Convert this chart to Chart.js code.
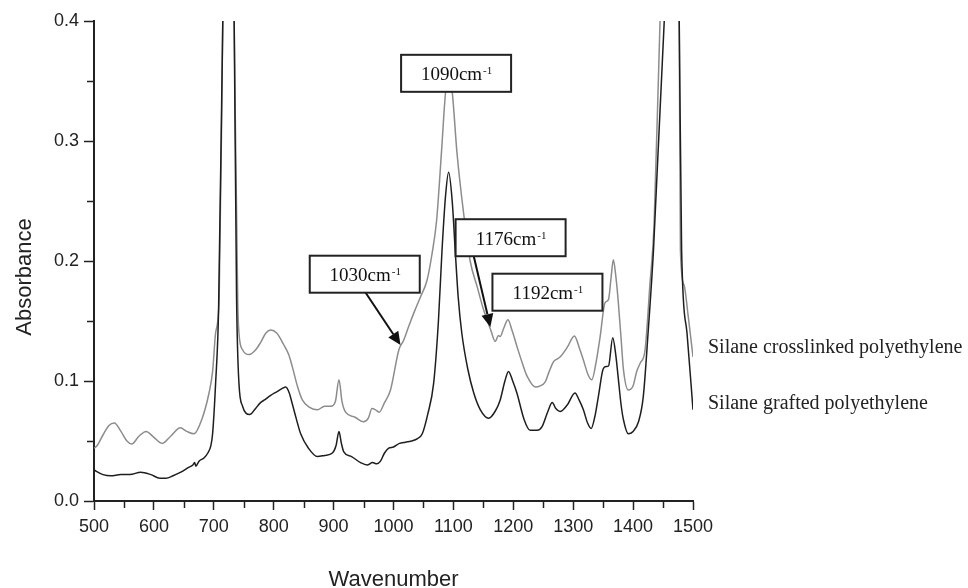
<!DOCTYPE html>
<html>
<head>
<meta charset="utf-8">
<script src="https://cdn.jsdelivr.net/npm/chart.js@4.4.1/dist/chart.umd.min.js"></script>
<style>
    body { margin: 0; background: #fff; }
    #wrap { width: 968px; height: 588px; }
</style>
</head>
<body>
<div id="wrap"><canvas id="ftir" width="968" height="588"></canvas></div>
<script>
// Widma FTIR
var crosslinkedX = [500, 505, 515, 525, 534, 545, 555, 563, 575, 587, 600, 614, 628, 644, 655, 667, 680, 692, 698, 703,
    709, 715, 725, 734, 740, 742, 748, 759, 770, 778, 787, 795, 805, 817, 825, 831, 840, 848, 860, 873,
    885, 895, 903, 909, 914, 920, 935, 950, 958, 964, 970, 976, 985, 995, 1009, 1017, 1025, 1035, 1045, 1056,
    1064, 1072, 1080, 1087, 1092, 1098, 1106, 1117, 1128, 1140, 1150, 1162, 1170, 1175, 1178, 1184, 1191, 1198, 1206, 1215,
    1223, 1237, 1245, 1253, 1260, 1267, 1272, 1278, 1290, 1302, 1310, 1317, 1325, 1331, 1338, 1345, 1353, 1359, 1363, 1367,
    1371, 1375, 1380, 1384, 1392, 1400, 1406, 1412, 1420, 1428, 1435, 1445, 1470, 1477, 1479, 1485, 1492, 1500];
var crosslinkedY = [0.044, 0.046, 0.055, 0.063, 0.065, 0.058, 0.050, 0.0475, 0.054, 0.058, 0.053, 0.048, 0.054, 0.061, 0.058, 0.056, 0.068, 0.090, 0.108, 0.140,
    0.170, 0.400, 0.720, 0.400, 0.165, 0.140, 0.126, 0.122, 0.126, 0.132, 0.140, 0.1425, 0.140, 0.130, 0.122, 0.112, 0.095, 0.084, 0.078, 0.076,
    0.079, 0.079, 0.083, 0.101, 0.083, 0.074, 0.070, 0.066, 0.069, 0.077, 0.076, 0.074, 0.082, 0.0925, 0.126, 0.134, 0.145, 0.158, 0.170, 0.184,
    0.205, 0.234, 0.290, 0.341, 0.355, 0.341, 0.290, 0.240, 0.200, 0.178, 0.160, 0.143, 0.133, 0.138, 0.137, 0.144, 0.151, 0.142, 0.129, 0.115,
    0.104, 0.095, 0.096, 0.099, 0.108, 0.116, 0.118, 0.120, 0.128, 0.1375, 0.128, 0.1175, 0.105, 0.101, 0.115, 0.137, 0.165, 0.168, 0.185, 0.201,
    0.188, 0.1675, 0.135, 0.109, 0.0925, 0.096, 0.108, 0.115, 0.126, 0.180, 0.230, 0.400, 0.700, 0.400, 0.209, 0.180, 0.154, 0.120];

var graftedX = [500, 503, 515, 528, 545, 560, 578, 595, 610, 620, 632, 645, 658, 665, 668, 670, 675, 684, 690, 695,
    698, 703, 708, 715, 725, 734, 738, 742, 748, 754, 760, 768, 778, 784, 795, 805, 815, 820, 826, 831,
    838, 845, 858, 873, 885, 898, 904, 909, 913, 917, 930, 945, 956, 965, 972, 978, 985, 992, 1000, 1010,
    1020, 1030, 1040, 1048, 1057, 1067, 1075, 1081, 1087, 1092, 1098, 1103, 1108, 1114, 1124, 1134, 1145, 1159, 1170, 1178,
    1186, 1192, 1199, 1206, 1218, 1228, 1240, 1248, 1258, 1265, 1271, 1278, 1290, 1303, 1310, 1317, 1324, 1330, 1336, 1342,
    1350, 1355, 1359, 1366, 1371, 1375, 1380, 1384, 1392, 1400, 1409, 1417, 1425, 1434, 1452, 1470, 1477, 1481, 1490, 1500];
var graftedY = [0.026, 0.025, 0.022, 0.021, 0.022, 0.022, 0.024, 0.022, 0.019, 0.019, 0.021, 0.024, 0.028, 0.030, 0.032, 0.029, 0.033, 0.036, 0.040, 0.046,
    0.056, 0.098, 0.160, 0.400, 0.700, 0.400, 0.170, 0.098, 0.079, 0.073, 0.072, 0.076, 0.082, 0.084, 0.088, 0.091, 0.094, 0.095, 0.090, 0.081,
    0.068, 0.056, 0.044, 0.037, 0.038, 0.040, 0.046, 0.058, 0.048, 0.041, 0.037, 0.032, 0.030, 0.032, 0.031, 0.033, 0.040, 0.044, 0.045, 0.048,
    0.049, 0.050, 0.052, 0.056, 0.072, 0.098, 0.150, 0.209, 0.255, 0.274, 0.250, 0.209, 0.170, 0.140, 0.110, 0.090, 0.076, 0.069, 0.075, 0.084,
    0.100, 0.108, 0.100, 0.090, 0.068, 0.059, 0.059, 0.062, 0.075, 0.082, 0.077, 0.0745, 0.080, 0.090, 0.084, 0.076, 0.065, 0.0605, 0.070, 0.087,
    0.110, 0.112, 0.1125, 0.136, 0.122, 0.1035, 0.080, 0.0675, 0.056, 0.058, 0.066, 0.087, 0.140, 0.209, 0.400, 0.650, 0.400, 0.209, 0.140, 0.076];

var xTicks = [500, 600, 700, 800, 900, 1000, 1100, 1200, 1300, 1400, 1500];
var yTicks = [0.0, 0.1, 0.2, 0.3, 0.4];
var xMinor = [550, 650, 750, 850, 950, 1050, 1150, 1250, 1350, 1450];
var yMinor = [0.05, 0.15, 0.25, 0.35];

var seriesNames = ['Silane crosslinked polyethylene', 'Silane grafted polyethylene'];
var peakNames = ['1090', '1176', '1030', '1192'];

function toPoints(xs, ys) {
    return xs.map(function (x, i) {
        return { x: x, y: ys[i] };
    });
}

// Ramki z opisami pasm (srodek ramki w jednostkach osi)
var boxes = [
    { label: peakNames[0], w: 1104.5, a: 0.3564 },
    { label: peakNames[1], w: 1195.5, a: 0.2194 },
    { label: peakNames[2], w: 952, a: 0.189 },
    { label: peakNames[3], w: 1257, a: 0.174 }
];
var arrows = [
    { from: [953, 0.174], to: [1011.7, 0.13] },
    { from: [1134, 0.204], to: [1161.7, 0.145] }
];
var seriesLabelPos = [0.1275, 0.081];

var serif = '"Liberation Serif", "Times New Roman", serif';
var sans = '"Liberation Sans", Arial, sans-serif';

var extras = {
    id: 'extras',
    afterDraw: function (chart) {
        var ctx = chart.ctx;
        var xs = chart.scales.x, ys = chart.scales.y;
        var area = chart.chartArea;
        ctx.save();

        // male kreski na osiach
        ctx.strokeStyle = '#222';
        ctx.lineWidth = 1.5;
        xMinor.forEach(function (v) {
            var p = Math.round(xs.getPixelForValue(v)) + 0.5;
            ctx.beginPath();
            ctx.moveTo(p, area.bottom);
            ctx.lineTo(p, area.bottom + 7);
            ctx.stroke();
        });
        yMinor.forEach(function (v) {
            var p = Math.round(ys.getPixelForValue(v)) + 0.5;
            ctx.beginPath();
            ctx.moveTo(area.left - 7, p);
            ctx.lineTo(area.left, p);
            ctx.stroke();
        });

        // tytuly osi
        ctx.fillStyle = '#222';
        ctx.font = '22px ' + sans;
        ctx.textAlign = 'center';
        ctx.textBaseline = 'middle';
        ctx.fillText('Wavenumber', (area.left + area.right) / 2, 580);
        ctx.save();
        ctx.translate(25, 277);
        ctx.rotate(-Math.PI / 2);
        ctx.fillText('Absorbance', 0, 0);
        ctx.restore();

        // strzalki
        ctx.strokeStyle = '#111';
        ctx.fillStyle = '#111';
        ctx.lineWidth = 2;
        arrows.forEach(function (ar) {
            var x1 = xs.getPixelForValue(ar.from[0]), y1 = ys.getPixelForValue(ar.from[1]);
            var x2 = xs.getPixelForValue(ar.to[0]), y2 = ys.getPixelForValue(ar.to[1]);
            var ang = Math.atan2(y2 - y1, x2 - x1);
            var hl = 13, hw = 6;
            var bx = x2 - hl * Math.cos(ang), by = y2 - hl * Math.sin(ang);
            ctx.beginPath();
            ctx.moveTo(x1, y1);
            ctx.lineTo(bx, by);
            ctx.stroke();
            ctx.beginPath();
            ctx.moveTo(x2, y2);
            ctx.lineTo(bx + hw * Math.sin(ang), by - hw * Math.cos(ang));
            ctx.lineTo(bx - hw * Math.sin(ang), by + hw * Math.cos(ang));
            ctx.closePath();
            ctx.fill();
        });

        // ramki
        boxes.forEach(function (b) {
            var cx = xs.getPixelForValue(b.w), cy = ys.getPixelForValue(b.a);
            var bw = 110, bh = 37;
            ctx.fillStyle = '#fff';
            ctx.fillRect(cx - bw / 2, cy - bh / 2, bw, bh);
            ctx.strokeStyle = '#222';
            ctx.lineWidth = 2;
            ctx.strokeRect(cx - bw / 2, cy - bh / 2, bw, bh);
            ctx.fillStyle = '#111';
            ctx.textAlign = 'left';
            ctx.textBaseline = 'alphabetic';
            ctx.font = '19px ' + serif;
            var main = b.label + 'cm';
            var mw = ctx.measureText(main).width;
            ctx.font = '11px ' + serif;
            var sw = ctx.measureText('-1').width;
            var sx = cx - (mw + sw) / 2;
            ctx.font = '19px ' + serif;
            ctx.fillText(main, sx, cy + 7);
            ctx.font = '11px ' + serif;
            ctx.fillText('-1', sx + mw + 1, cy + 1);
        });

        // opisy serii po prawej
        ctx.fillStyle = '#222';
        ctx.font = '20px ' + serif;
        ctx.textAlign = 'left';
        ctx.textBaseline = 'middle';
        seriesNames.forEach(function (name, i) {
            ctx.fillText(name, area.right + 15, ys.getPixelForValue(seriesLabelPos[i]));
        });

        ctx.restore();
    }
};

var ctx = document.getElementById('ftir').getContext('2d');

var chart = new Chart(ctx, {
    type: 'line',
    data: {
        datasets: [{
            label: seriesNames[1],
            data: toPoints(graftedX, graftedY),
            borderColor: '#1e1e1e',
            borderWidth: 1.5,
            pointRadius: 0,
            cubicInterpolationMode: 'monotone',
            fill: false
        },
        {
            label: seriesNames[0],
            data: toPoints(crosslinkedX, crosslinkedY),
            borderColor: '#8c8c8c',
            borderWidth: 1.5,
            pointRadius: 0,
            cubicInterpolationMode: 'monotone',
            fill: false
        }]
    },
    options: {
        responsive: false,
        animation: false,
        devicePixelRatio: 1,
        layout: { padding: { left: 0, right: 275, top: 21, bottom: 0 } },
        plugins: {
            legend: { display: false },
            tooltip: { enabled: false }
        },
        scales: {
            x: {
                type: 'linear',
                min: 500,
                max: 1500,
                afterBuildTicks: function (s) {
                    s.ticks = xTicks.map(function (v) { return { value: v }; });
                },
                afterFit: function (s) { s.height = 87; },
                grid: { drawOnChartArea: false, drawTicks: true, tickLength: 9, tickColor: '#222', tickWidth: 1.5 },
                border: { display: true, color: '#222', width: 2 },
                ticks: {
                    color: '#222', padding: 6, maxRotation: 0, font: { family: sans, size: 18 },
                    callback: function (v) { return String(v); }
                },
                title: { display: false }
            },
            y: {
                type: 'linear',
                min: 0,
                max: 0.4,
                afterBuildTicks: function (s) {
                    s.ticks = yTicks.map(function (v) { return { value: v }; });
                },
                afterFit: function (s) { s.width = 94; },
                grid: { drawOnChartArea: false, drawTicks: true, tickLength: 10, tickColor: '#222', tickWidth: 1.5 },
                border: { display: true, color: '#222', width: 2 },
                ticks: {
                    color: '#222', padding: 5, font: { family: sans, size: 18 },
                    callback: function (v) { return Number(v).toFixed(1); }
                },
                title: { display: false }
            }
        }
    },
    plugins: [extras]
});
</script>
</body>
</html>
